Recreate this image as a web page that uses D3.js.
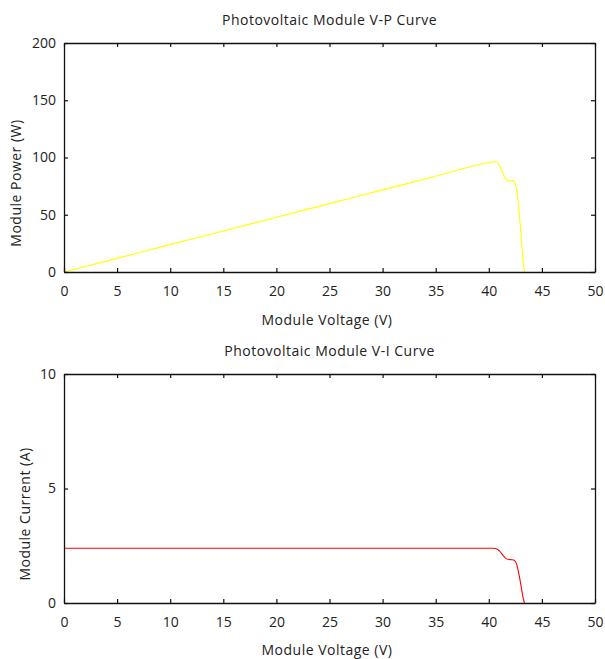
<!DOCTYPE html>
<html>
<head>
<meta charset="utf-8">
<script src="https://cdn.jsdelivr.net/npm/d3@7"></script>
<style>
  body { margin: 0; background: #fff; }
  svg text { font-family: "Open Sans", sans-serif; fill: #222; }
</style>
</head>
<body>
<div id="chart"></div>
<script>
// values
const voltage = [0, 5, 10, 15, 20, 25, 30, 35, 40, 40.4, 40.7, 41.0, 41.3, 41.6, 41.9, 42.2, 42.4, 42.6, 42.8, 43.0, 43.2, 43.35];
const current = [2.39, 2.39, 2.39, 2.39, 2.39, 2.39, 2.39, 2.39, 2.39, 2.39, 2.37, 2.28, 2.10, 1.95, 1.90, 1.89, 1.86, 1.72, 1.35, 0.85, 0.30, 0];
const power   = [0, 11.9, 23.9, 35.8, 47.8, 59.7, 71.7, 83.6, 95.6, 96.2, 96.0, 93.4, 86.7, 81.1, 79.6, 79.8, 78.9, 73.3, 57.8, 36.6, 13.0, 0];

const xTicks = [0, 5, 10, 15, 20, 25, 30, 35, 40, 45, 50];
const pTicks = [0, 50, 100, 150, 200];
const iTicks = [0, 5, 10];

const width = 605, height = 659;
const left = 64, right = 595;

const svg = d3.select("#chart").append("svg")
  .attr("width", width)
  .attr("height", height);

function panel(opts) {
  const x = d3.scaleLinear().domain([0, 50]).range([left, right]);
  const y = d3.scaleLinear().domain(opts.yDomain).range([opts.bottom, opts.top]);
  const g = svg.append("g");

  // the curve
  const line = d3.line()
    .x(d => x(d[0]))
    .y(d => y(d[1]))
    .curve(d3.curveMonotoneX);
  g.append("path")
    .datum(voltage.map((v, i) => [v, opts.values[i]]))
    .attr("fill", "none")
    .attr("stroke", opts.color)
    .attr("stroke-width", 1.1)
    .attr("d", line);

  // axes, ticks inward on all four sides
  const tl = 4;
  const bottomAx = d3.axisBottom(x).tickValues(opts.xTicks).tickSizeInner(-tl).tickSizeOuter(0).tickPadding(14);
  const topAx = d3.axisTop(x).tickValues(opts.xTicks).tickSizeInner(-tl).tickSizeOuter(0).tickFormat("");
  const leftAx = d3.axisLeft(y).tickValues(opts.yTicks).tickSizeInner(-tl).tickSizeOuter(0).tickPadding(8);
  const rightAx = d3.axisRight(y).tickValues(opts.yTicks).tickSizeInner(-tl).tickSizeOuter(0).tickFormat("");

  const axes = [
    [bottomAx, `translate(0,${opts.bottom})`],
    [topAx, `translate(0,${opts.top})`],
    [leftAx, `translate(${left},0)`],
    [rightAx, `translate(${right},0)`]
  ];
  axes.forEach(([ax, tr]) => {
    const a = g.append("g").attr("transform", tr).call(ax);
    a.select(".domain").attr("stroke", "#111").attr("stroke-width", 1.3);
    a.selectAll(".tick line").attr("stroke", "#111").attr("stroke-width", 1.2);
    a.selectAll(".tick text")
      .style("font-family", "'Open Sans', sans-serif")
      .style("font-size", "14px")
      .attr("fill", "#222");
  });

  g.append("text")
    .attr("x", (left + right) / 2)
    .attr("y", opts.titleY)
    .attr("text-anchor", "middle")
    .style("font-size", "14px")
    .style("letter-spacing", "0.5px")
    .text(opts.title);

  g.append("text")
    .attr("x", 327)
    .attr("y", opts.xLabelY)
    .attr("text-anchor", "middle")
    .style("font-size", "14px")
    .style("letter-spacing", "0.5px")
    .text("Module Voltage (V)");

  g.append("text")
    .attr("transform", `translate(${opts.yLabelX},${opts.yLabelMid}) rotate(-90)`)
    .attr("text-anchor", "middle")
    .style("font-size", "14px")
    .style("letter-spacing", "0.5px")
    .text(opts.yLabel);
}

panel({
  top: 43, bottom: 272,
  yDomain: [0, 200], yTicks: pTicks, xTicks: xTicks,
  values: power, color: "#ffff00",
  title: "Photovoltaic Module V-P Curve", titleY: 25,
  xLabelY: 325,
  yLabel: "Module Power (W)", yLabelX: 21, yLabelMid: 183
});

panel({
  top: 374, bottom: 603,
  yDomain: [0, 10], yTicks: iTicks, xTicks: xTicks,
  values: current, color: "#ff0000",
  title: "Photovoltaic Module V-I Curve", titleY: 356,
  xLabelY: 655,
  yLabel: "Module Current (A)", yLabelX: 30, yLabelMid: 514
});
</script>
</body>
</html>
